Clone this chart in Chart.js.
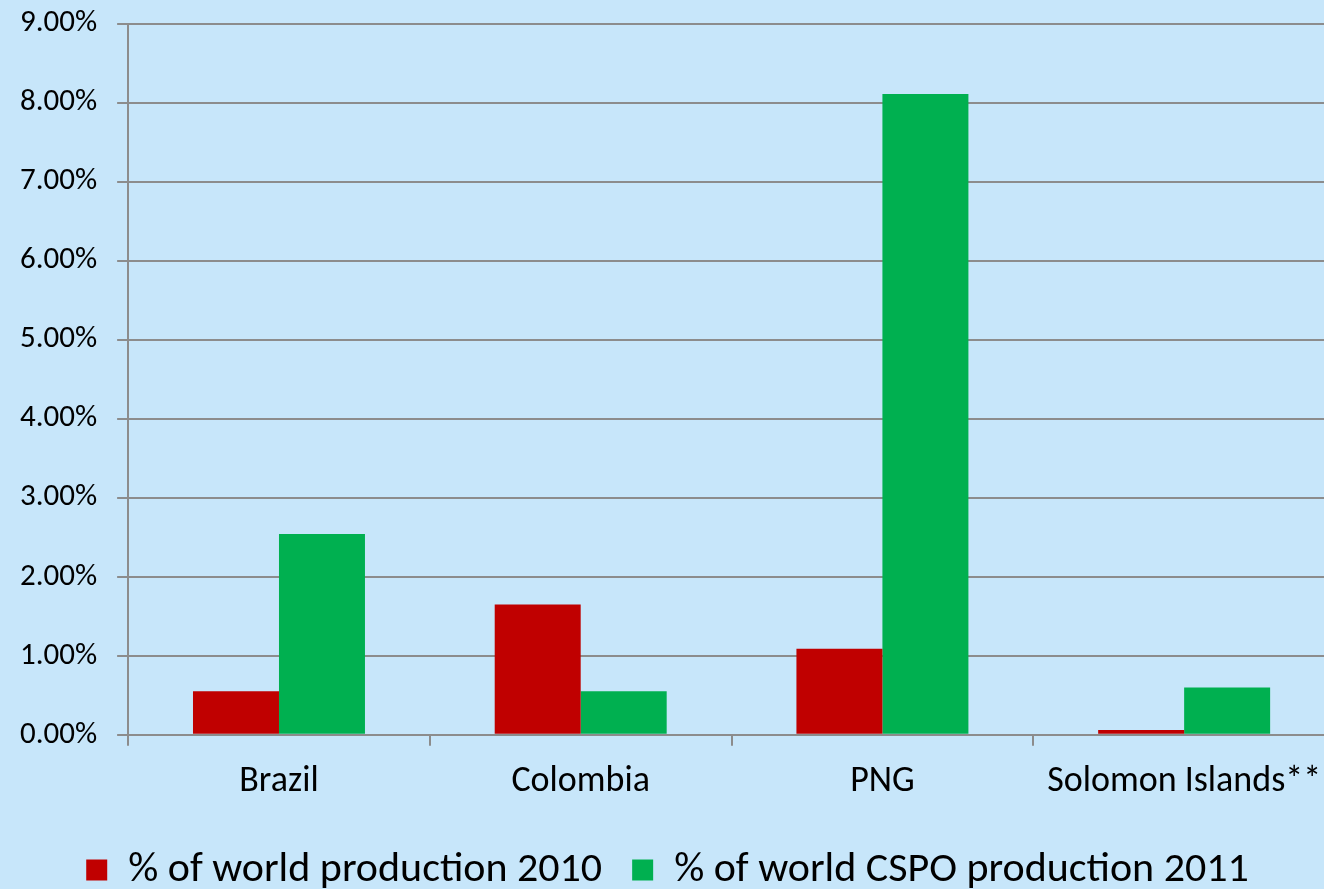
<!DOCTYPE html>
<html>
<head>
<meta charset="utf-8">
<script src="https://cdn.jsdelivr.net/npm/chart.js@4/dist/chart.umd.min.js"></script>
<style>
  html, body { margin: 0; padding: 0; background: #C7E6FA; overflow: hidden; }
  #wrap { width: 1400px; height: 904px; position: absolute; top: -15px; left: 0; }
</style>
</head>
<body>
<div id="wrap"><canvas id="c"></canvas></div>
<script>
const categories = ["Brazil", "Colombia", "PNG", "Solomon Islands**"];
const production2010 = [0.55, 1.65, 1.09, 0.06];
const cspo2011 = [2.54, 0.55, 8.11, 0.60];
const seriesNames = ["% of world production 2010", "% of world CSPO production 2011"];
const seriesColors = ["#C00000", "#00B050"];
const yMin = 0, yMax = 9, yStep = 1;

const font = "Carlito, Lato, 'Open Sans', sans-serif";

new Chart(document.getElementById('c'), {
  type: 'bar',
  data: {
    labels: categories,
    datasets: [
      { label: seriesNames[0], data: production2010, backgroundColor: seriesColors[0], borderWidth: 0 },
      { label: seriesNames[1], data: cspo2011, backgroundColor: seriesColors[1], borderWidth: 0 }
    ]
  },
  options: {
    responsive: true,
    maintainAspectRatio: false,
    animation: false,
    devicePixelRatio: 1,
    layout: { padding: { top: 0, right: 65, left: 0, bottom: -12 } },
    datasets: { bar: { categoryPercentage: 0.57, barPercentage: 1.0 } },
    plugins: {
      legend: {
        position: 'bottom',
        labels: {
          boxWidth: 21, boxHeight: 21, padding: 30,
          color: '#000',
          font: { family: font, size: 42 }
        }
      },
      tooltip: { enabled: false }
    },
    scales: {
      x: {
        grid: { drawOnChartArea: false, tickLength: 11, color: '#8c8c8c', lineWidth: 2, offset: true },
        border: { display: false },
        ticks: { color: '#000', font: { family: font, size: 36 }, padding: 15, maxRotation: 0 }
      },
      y: {
        min: yMin, max: yMax,
        grid: { color: '#8c8c8c', lineWidth: 2, tickLength: 11 },
        border: { display: true, color: '#8c8c8c', width: 2 },
        ticks: {
          stepSize: yStep, color: '#000', padding: 20,
          font: { family: font, size: 31 },
          callback: v => v.toFixed(2) + '%'
        }
      }
    }
  }
});
</script>
</body>
</html>
